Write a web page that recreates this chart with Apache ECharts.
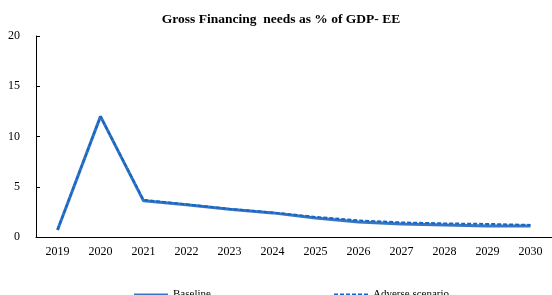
<!DOCTYPE html>
<html>
<head>
<meta charset="utf-8">
<script src="https://cdn.jsdelivr.net/npm/echarts@6/dist/echarts.min.js"></script>
<style>
  html, body { margin: 0; padding: 0; background: #fff; }
  #chart { width: 552px; height: 295px; }
</style>
</head>
<body>
<div id="chart"></div>
<script>
var years = ['2019', '2020', '2021', '2022', '2023', '2024', '2025', '2026', '2027', '2028', '2029', '2030'];
var baseline = [0.7, 12.0, 3.6, 3.2, 2.75, 2.4, 1.9, 1.5, 1.3, 1.2, 1.1, 1.1];
var adverse = [0.7, 12.0, 3.7, 3.25, 2.8, 2.45, 2.0, 1.65, 1.45, 1.35, 1.3, 1.2];
var yTicks = [0, 5, 10, 15, 20];

var font = 'Liberation Serif';
var chart = echarts.init(document.getElementById('chart'));

var legendBase = {
  top: 284,
  itemWidth: 34,
  itemHeight: 10,
  itemGap: 4,
  itemStyle: { opacity: 0 },
  textStyle: { fontFamily: font, fontSize: 11, color: '#000' }
};

var option = {
  backgroundColor: '#fff',
  animation: false,
  title: {
    text: 'Gross Financing  needs as % of GDP- EE',
    left: 276,
    textAlign: 'center',
    top: 8,
    textStyle: { fontFamily: font, fontSize: 13.5, fontWeight: 'bold', color: '#000' }
  },
  legend: [
    Object.assign({ data: ['Baseline'], left: 128 }, legendBase),
    Object.assign({ data: ['Adverse scenario'], left: 328 }, legendBase)
  ],
  grid: { left: 36, top: 36, width: 522, height: 201 },
  xAxis: {
    type: 'category',
    data: years,
    boundaryGap: true,
    axisLine: { lineStyle: { color: '#000', width: 1 } },
    axisTick: { inside: true, length: 4, lineStyle: { color: '#000' } },
    axisLabel: { fontFamily: font, fontSize: 12, color: '#000', margin: 9 }
  },
  yAxis: {
    type: 'value',
    min: yTicks[0],
    max: yTicks[yTicks.length - 1],
    interval: yTicks[1] - yTicks[0],
    splitLine: { show: false },
    axisLine: { show: true, lineStyle: { color: '#000', width: 1 } },
    axisTick: { show: true, inside: true, length: 4, lineStyle: { color: '#000' } },
    axisLabel: { fontFamily: font, fontSize: 12, color: '#000', margin: 16 }
  },
  series: [{
    name: 'Baseline',
    type: 'line',
    data: baseline,
    symbol: 'none',
    lineStyle: { color: '#3a75bf', width: 3, type: 'solid' },
    itemStyle: { color: '#3a75bf' }
  }, {
    name: 'Adverse scenario',
    type: 'line',
    data: adverse,
    symbol: 'none',
    lineStyle: { color: '#1268c8', width: 2, type: [4, 2] },
    itemStyle: { color: '#1268c8' }
  }]
};

chart.setOption(option);
</script>
</body>
</html>
